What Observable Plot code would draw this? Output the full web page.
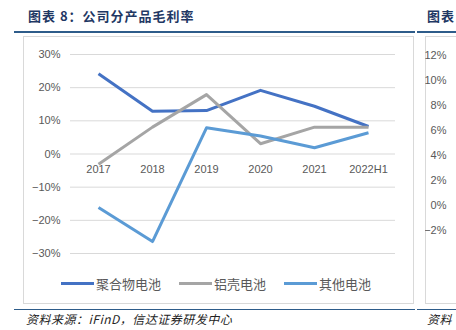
<!DOCTYPE html>
<html>
<head>
<meta charset="utf-8">
<script src="https://cdn.jsdelivr.net/npm/d3@7"></script>
<script src="https://cdn.jsdelivr.net/npm/@observablehq/plot@0.6"></script>
<style>
  html, body { margin: 0; padding: 0; background: #fff; }
  body { width: 456px; height: 330px; overflow: hidden; position: relative;
         font-family: "Liberation Sans", "Noto Sans CJK SC", sans-serif; }
  .abs { position: absolute; }
  .title { font-family: "Noto Sans CJK SC", sans-serif; font-weight: 700; font-size: 13px; color: #1f3864; top: 6px; white-space: nowrap; letter-spacing: 1px; }
  .rule { height: 2px; background: #2e5c8a; top: 31px; }
  .box { border: 1px solid #d9d9d9; box-sizing: border-box; }
  .legend { top: 274px; left: 21px; width: 390px; display: flex; justify-content: center; gap: 18px; font-family: "Noto Sans CJK SC", sans-serif; font-size: 13px; color: #595959; }
  .legend span.item { display: flex; align-items: center; }
  .legend span.sw { display: inline-block; width: 33px; height: 3px; margin-right: 2px; }
  .source { font-family: "Noto Sans CJK SC", sans-serif; font-style: italic; font-size: 12px; letter-spacing: 0.5px; color: #222; top: 310px; white-space: nowrap; }
  .rule2 { height: 1px; background: #2e5c8a; top: 309px; }
</style>
</head>
<body>
<script>
const categories = ["2017", "2018", "2019", "2020", "2021", "2022H1"];
const seriesNames = ["聚合物电池", "铝壳电池", "其他电池"];
const polymer = [0.242, 0.129, 0.131, 0.192, 0.144, 0.083];
const aluminum = [-0.031, 0.081, 0.179, 0.031, 0.081, 0.081];
const other = [-0.161, -0.264, 0.079, 0.054, 0.019, 0.064];
const colors = ["#4472c4", "#a5a5a5", "#5b9bd5"];
const yTicks = [-0.3, -0.2, -0.1, 0, 0.1, 0.2, 0.3];
const rightTicks = [-0.02, 0, 0.02, 0.04, 0.06, 0.08, 0.10, 0.12];

const allSeries = [polymer, aluminum, other];
const rows = [];
allSeries.forEach((vals, si) => vals.forEach((v, i) => rows.push({ series: seriesNames[si], cat: categories[i], value: v })));

function add(html, cls, style) {
  const d = document.createElement("div");
  d.className = "abs " + cls;
  Object.assign(d.style, style || {});
  d.innerHTML = html;
  document.body.appendChild(d);
  return d;
}

add("图表 8：公司分产品毛利率", "title", { left: "28px" });
add("图表", "title", { left: "427px" });
add("", "rule", { left: "14px", width: "401px" });
add("", "rule", { left: "417px", width: "50px" });
add("", "box", { left: "23px", top: "36px", width: "391px", height: "268px" });
add("", "box", { left: "425px", top: "36px", width: "60px", height: "268px" });

const fmt = d3.format(".0%");

const chart = Plot.plot({
  width: 390,
  height: 230,
  marginLeft: 47,
  marginRight: 18,
  marginTop: 17,
  marginBottom: 14,
  style: { fontFamily: "Liberation Sans, sans-serif", fontSize: "11px", color: "#595959", background: "transparent" },
  x: { type: "band", domain: categories, padding: 0, axis: null },
  y: { domain: [-0.3, 0.3], ticks: yTicks, tickFormat: fmt, tickSize: 0, tickPadding: 10, label: null },
  color: { domain: seriesNames, range: colors },
  marks: [
    Plot.ruleY(yTicks, { stroke: "#d9d9d9", strokeWidth: 1 }),
    Plot.line(rows, { x: "cat", y: "value", z: "series", stroke: "series", strokeWidth: 3, strokeLinejoin: "round", strokeLinecap: "butt" }),
    Plot.text(categories, { x: d => d, y: () => 0, dy: 15, fill: "#595959", fontSize: 11 })
  ]
});
chart.style.position = "absolute";
chart.style.left = "23px";
chart.style.top = "37px";
document.body.appendChild(chart);

const right = Plot.plot({
  width: 31,
  height: 230,
  marginLeft: 23,
  marginRight: 0,
  marginTop: 18,
  marginBottom: 37,
  style: { fontFamily: "Liberation Sans, sans-serif", fontSize: "11px", color: "#595959", background: "transparent" },
  x: { domain: [0, 1], axis: null },
  y: { domain: [-0.02, 0.12], ticks: rightTicks, tickFormat: fmt, tickSize: 0, tickPadding: 2, label: null },
  marks: []
});
right.style.position = "absolute";
right.style.left = "425px";
right.style.top = "37px";
document.body.appendChild(right);

const legend = add("", "legend", {});
seriesNames.forEach((n, i) => {
  legend.innerHTML += `<span class="item"><span class="sw" style="background:${colors[i]}"></span>${n}</span>`;
});

add("", "rule2", { left: "14px", width: "401px" });
add("", "rule2", { left: "417px", width: "50px" });
add("资料来源：iFinD，信达证券研发中心", "source", { left: "26px" });
add("资料", "source", { left: "427px" });
</script>
</body>
</html>
